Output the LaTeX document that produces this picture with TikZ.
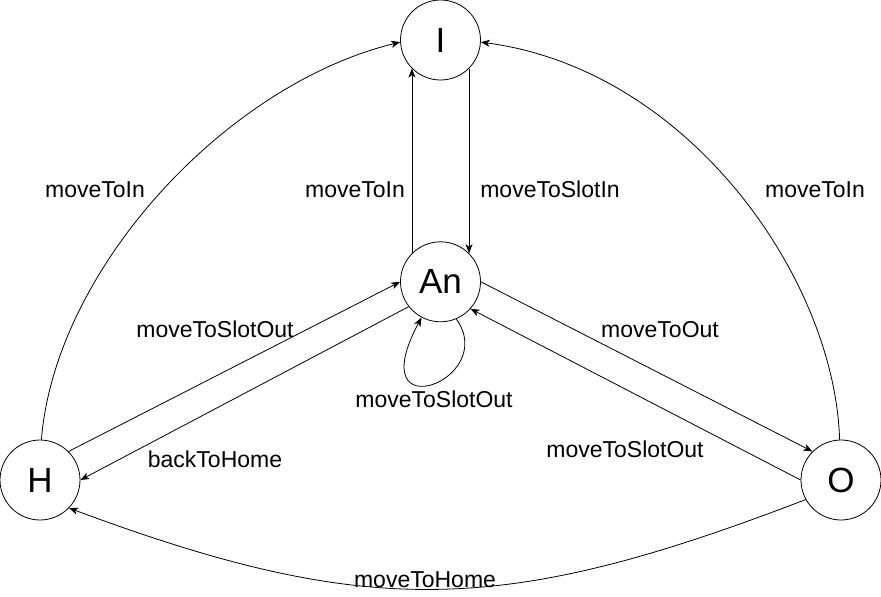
\documentclass[tikz,border=0pt]{standalone}
\usepackage{fontspec}
\setmainfont{Liberation Sans}
\usetikzlibrary{arrows.meta,positioning}

\begin{document}
\begin{tikzpicture}[x=1pt, y=-1pt,
    state/.style={circle, draw, line width=0.8pt, minimum size=80pt,
                  inner sep=0pt, font=\fontsize{35}{40}\selectfont},
    arrow/.style={-{Stealth[length=9pt,width=7pt,inset=2.5pt]}, line width=0.8pt},
    lbl/.style={anchor=base, font=\fontsize{23}{27}\selectfont},
]
\useasboundingbox (0,0) rectangle (881,597);

\node[state] (I) at (440.5,40) {I};
\node[state,below=161pt of I] (An) {An};
\node[state] (H) at (40,480) {H};
\node[state] (O) at (841,480) {O};

\node[lbl] (lInH) at (95,197) {moveToIn};
\node[lbl] (lInAn) at (355,197) {moveToIn};
\node[lbl] (lSlotIn) at (550,197) {moveToSlotIn};
\node[lbl] (lInO) at (815,197) {moveToIn};
\node[lbl] (lSlotOutH) at (215,337) {moveToSlotOut};
\node[lbl] (lBack) at (215,467) {backToHome};
\node[lbl] (lOut) at (660,337) {moveToOut};
\node[lbl] (lSlotOutO) at (625,457) {moveToSlotOut};
\node[lbl] (lLoop) at (434,407) {moveToSlotOut};
\node[lbl] (lHome) at (425,587) {moveToHome};

\draw[arrow] (An.135) -- (I.225);
\draw[arrow] (I.315) -- (An.45);
\draw[arrow] (H.45) -- (An.west);
\draw[arrow] (An.218) -- (H.east);
\draw[arrow] (An.east) -- (O.135);
\draw[arrow] (O.west) -- (An.318);
\draw[arrow] (An.293) .. controls (500,380) and (360,432) .. (An.242);

% outer curves
\draw[arrow] (H.88) .. controls (55,270) and (225,85) .. (I.183);
\draw[arrow] (O.92) .. controls (835,280) and (690,70) .. (I.357);
\draw[arrow] (O.209) .. controls (505,615) and (370,620) .. (H.316);

\end{tikzpicture}
\end{document}
